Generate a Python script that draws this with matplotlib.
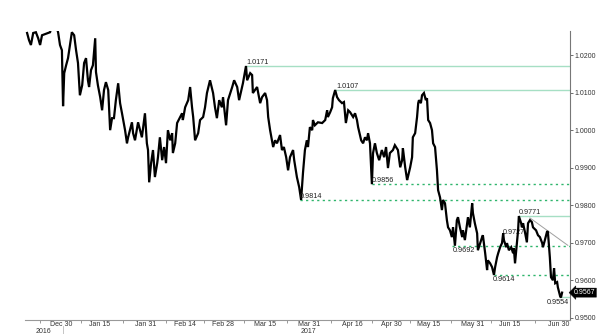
import matplotlib
matplotlib.use("Agg")
from matplotlib import pyplot as plt
from matplotlib import transforms

# x values are trading days counted from Dec 30 2016 (weekends removed)
DAYS = [
    -9.0, -8.5, -8.0, -7.4, -6.7, -6.1, -5.6, -5.1, -4.3, -3.5, -3.0, -2.5, -1.7, -1.2, -0.9,
    -0.4, 0.1, 0.4, 0.7, 1.2, 1.7, 2.2, 2.7, 3.3, 3.8, 4.3, 4.8, 5.4, 5.9, 6.4, 6.9, 7.2, 7.7,
    8.2, 8.8, 9.0, 9.5, 10.1, 10.6, 11.1, 11.6, 12.2, 12.7, 13.2, 13.7, 14.2, 14.8,
    15.3, 15.8, 16.6, 17.1, 17.4, 18.4, 18.7, 19.2, 20.0, 21.0, 21.8, 22.3, 22.6, 22.9, 23.4,
    23.9, 24.4, 25.0, 25.2, 25.7, 26.3, 26.8, 27.3, 27.8, 28.4, 28.9, 29.1, 29.7, 30.2, 31.0,
    31.5, 31.7, 32.3, 33.1, 33.6, 34.1, 34.4, 34.9, 35.7, 36.2, 37.0, 37.5, 38.0, 38.8, 39.6,
    40.1, 40.6, 41.2, 41.9, 42.2, 43.0, 43.5, 44.6, 45.1, 45.9, 46.4, 47.2, 47.4, 48.2, 48.5,
    49.3, 49.8, 50.0, 51.1, 51.9, 52.4, 53.2, 53.7, 54.0, 54.5, 55.3, 55.8, 56.3, 57.1, 57.6,
    58.1, 58.7, 59.2, 59.7, 60.5, 60.8, 61.5, 62.1, 62.6, 63.1, 63.6, 64.1, 64.4, 64.9, 65.5,
    65.7, 66.2, 67.0, 68.1, 68.9, 69.4, 69.6, 70.2, 70.7, 70.9, 71.5, 72.0, 72.5, 73.3, 73.8,
    74.3, 74.9, 75.4, 76.2, 76.7, 77.2, 77.5, 78.3, 78.8, 79.3, 79.8, 80.1, 80.6, 81.1, 81.4,
    81.9, 82.4, 83.0, 83.7, 84.3, 84.8, 85.3, 85.8, 86.6, 87.1, 87.9, 88.5, 89.0, 89.2, 89.8,
    90.3, 90.5, 91.1, 91.6, 91.8, 92.4, 92.9, 93.2, 93.4, 93.9, 94.2, 94.7, 95.2, 95.5, 95.8,
    96.3, 96.8, 97.1, 97.6, 98.1, 98.4, 98.9, 99.4, 99.7, 100.2, 100.7, 101.0, 101.5, 102.0,
    102.3, 102.8, 103.3, 103.6, 104.1, 104.7, 104.9, 105.4, 106.0, 106.2, 106.7, 107.3, 107.5,
    108.0, 108.6, 108.8, 109.4, 109.9, 110.1, 110.7, 111.2, 111.4, 112.0, 112.5, 113.0, 113.3,
    113.8, 114.1, 114.6, 115.1, 115.4, 115.6, 116.2, 116.4, 116.9, 117.5, 118.0, 118.2, 118.5,
    119.0, 119.3, 119.5, 120.1, 120.3, 120.6, 121.1, 121.6, 121.9, 122.4, 122.9, 123.2, 124.0,
    124.5, 125.0, 125.6, 125.8, 126.3, 126.9, 127.1, 127.6, 127.9, 128.4, 128.7, 129.0, 129.5,
    129.7, 130.3, 130.5, 130.8,
]
PRICE = [
    1.0259, 1.0240, 1.0227, 1.0259, 1.0261, 1.0245, 1.0227, 1.0253, 1.0256, 1.0259, 1.0261,
    1.0280, 1.0288, 1.0272, 1.0261, 1.0227, 1.0213, 1.0064, 1.0152, 1.0173, 1.0192, 1.0227,
    1.0261, 1.0253, 1.0213, 1.0179, 1.0093, 1.0120, 1.0179, 1.0192, 1.0133, 1.0115, 1.0160,
    1.0173, 1.0245, 1.0155, 1.0120, 1.0088, 1.0053, 1.0107, 1.0128, 1.0107, 1.0000, 1.0032,
    1.0032, 1.0080, 1.0125,
    1.0072, 1.0045, 1.0000, 0.9965, 0.9981, 1.0021, 0.9992, 0.9973, 1.0021, 0.9981, 1.0045,
    0.9965, 0.9947, 0.9861, 0.9912, 0.9947, 0.9875, 0.9912, 0.9928, 0.9981, 0.9920, 0.9955,
    0.9912, 1.0000, 0.9973, 0.9992, 0.9939, 0.9965, 1.0019, 1.0035, 1.0045, 1.0027, 1.0061,
    1.0080, 1.0115, 1.0061, 1.0035, 0.9973, 0.9992, 1.0027, 1.0035, 1.0061, 1.0099, 1.0133,
    1.0099, 1.0061, 1.0032, 1.0080, 1.0061, 1.0088, 1.0013, 1.0080, 1.0115, 1.0133, 1.0115,
    1.0080, 1.0115, 1.0125, 1.0171, 1.0133, 1.0152, 1.0147, 1.0099, 1.0115, 1.0072, 1.0088,
    1.0099, 1.0080, 1.0035, 1.0000, 0.9955, 0.9973, 0.9965, 0.9987, 0.9947, 0.9955, 0.9928,
    0.9893, 0.9928, 0.9947, 0.9920, 0.9875, 0.9848, 0.9814, 0.9887, 0.9947, 0.9973, 0.9955,
    1.0008, 1.0000, 1.0027, 1.0013, 1.0021, 1.0019, 1.0027, 1.0053, 1.0035, 1.0048, 1.0061,
    1.0085, 1.0107, 1.0088, 1.0080, 1.0072, 1.0075, 1.0019, 1.0053, 1.0048, 1.0035, 1.0045,
    1.0027, 1.0008, 0.9973, 0.9965, 0.9981, 0.9973, 0.9992, 0.9965, 0.9856, 0.9939, 0.9965,
    0.9939, 0.9920, 0.9947, 0.9928, 0.9955, 0.9899, 0.9939, 0.9947, 0.9960, 0.9947, 0.9901,
    0.9920, 0.9952, 0.9901, 0.9867, 0.9875, 0.9901, 0.9928, 0.9981, 0.9992, 1.0035, 1.0072,
    1.0080, 1.0072, 1.0093, 1.0099, 1.0080, 1.0085, 1.0027, 1.0019, 1.0000, 0.9965, 0.9955,
    0.9893, 0.9840, 0.9821, 0.9787, 0.9814, 0.9805, 0.9760, 0.9741, 0.9733, 0.9715, 0.9741,
    0.9692, 0.9760, 0.9768, 0.9741, 0.9715, 0.9733, 0.9707, 0.9752, 0.9768, 0.9741, 0.9805,
    0.9779, 0.9752, 0.9725, 0.9680, 0.9699, 0.9715, 0.9720, 0.9672, 0.9627, 0.9653, 0.9645,
    0.9635, 0.9614, 0.9635, 0.9661, 0.9672, 0.9688, 0.9699, 0.9725, 0.9707, 0.9688, 0.9699,
    0.9680, 0.9688, 0.9672, 0.9685, 0.9645, 0.9699, 0.9733, 0.9771, 0.9752, 0.9741, 0.9752,
    0.9728, 0.9701, 0.9752, 0.9760, 0.9755, 0.9741, 0.9733, 0.9720, 0.9715, 0.9699, 0.9688,
    0.9707, 0.9731, 0.9728, 0.9661, 0.9608, 0.9600, 0.9632, 0.9592, 0.9595, 0.9581, 0.9557,
    0.9554, 0.9567,
]

LAST_PRICE = 0.9567

# support / resistance levels: value, first trading day, solid or dotted, label side
LEVELS = [1.0171, 1.0107, 0.9856, 0.9814, 0.9771, 0.9692, 0.9614, 0.9554]
LEVEL_START = [48.2, 71.5, 81.1, 62.4, 119.5, 102.0, 113.0, 130.3]
LEVEL_DOTTED = [False, False, True, True, False, True, True, False]
LABEL_DAY = [48.2, 71.7, 81.1, 62.3, 119.5, 102.3, 112.7, 126.9]
LABEL_ABOVE = [True, True, True, True, True, False, False, False]

# extra peak label and falling trend line
PEAK_LABEL = ("0.9727", 115.4, 0.9727)
TREND_DAYS = [122.4, 132.3]
TREND_VALS = [0.9766, 0.9693]

TICK_LABELS = ["Dec 30", "Jan 15", "Jan 31", "Feb 14", "Feb 28", "Mar 15", "Mar 31",
               "Apr 16", "Apr 30", "May 15", "May 31", "Jun 15", "Jun 30"]
TICK_DAYS = [0.0, 10.0, 22.1, 32.3, 42.2, 53.2, 64.7, 75.9, 86.1, 95.8, 107.5, 117.2, 130.0]
YEAR_LABELS = [("2016", -4.8), ("2017", 64.4)]
YEAR_BREAK = 0.5

Y_TICKS = [0.95, 0.96, 0.97, 0.98, 0.99, 1.00, 1.01, 1.02]

SOLID_GREEN = "#a6dfc4"
DOT_GREEN = "#2fb56c"
FONT = "Liberation Sans"


def draw_chart(path="out.png"):
    fig = plt.figure(figsize=(6.0, 3.34), dpi=100)
    ax = fig.add_axes([0.0417, 0.0419, 0.9075, 0.8638])

    ax.set_xlim(-9.54, 132.74)
    ax.set_ylim(0.9494, 1.0263)

    # levels first so the price line sits on top
    right = ax.get_xlim()[1]
    for val, start, dotted, lx, above in zip(LEVELS, LEVEL_START, LEVEL_DOTTED,
                                              LABEL_DAY, LABEL_ABOVE):
        if dotted:
            ax.plot([start, right], [val, val], color=DOT_GREEN, lw=1.0,
                    dashes=(1.6, 2.4), zorder=2)
        else:
            ax.plot([start, right], [val, val], color=SOLID_GREEN, lw=1.0, zorder=2)
        ax.annotate(f"{val:.4f}", (lx, val), xytext=(0, 0.3 if above else -1.0),
                    textcoords="offset points", va="bottom" if above else "top",
                    ha="left", fontsize=5.2, family=FONT, color="#222222", zorder=4)

    ax.plot(TREND_DAYS, TREND_VALS, color="#a0a0a0", lw=0.7, zorder=2)

    ax.plot(DAYS, PRICE, color="black", lw=1.6, solid_joinstyle="miter", zorder=3)

    ax.text(PEAK_LABEL[1], PEAK_LABEL[2], PEAK_LABEL[0], fontsize=5.2, family=FONT,
            color="#222222", va="center", ha="left", zorder=2.5)

    # axes styling
    for side in ("left", "top"):
        ax.spines[side].set_visible(False)
    ax.spines["right"].set_color("#777777")
    ax.spines["right"].set_linewidth(0.8)
    ax.spines["bottom"].set_color("#999999")
    ax.spines["bottom"].set_linewidth(0.8)

    ax.yaxis.tick_right()
    ax.set_yticks(Y_TICKS)
    ax.set_yticklabels([f"{v:.4f}" for v in Y_TICKS], fontsize=5, family=FONT,
                       color="#333333")
    ax.tick_params(axis="y", length=2, width=0.6, pad=1.5, colors="#555555",
                   labelcolor="#333333")

    # labels centred in periods, tick marks on period boundaries
    bounds = [-5.5] + [(a + b) / 2 for a, b in zip(TICK_DAYS[:-1], TICK_DAYS[1:])]
    ax.set_xticks(bounds)
    ax.set_xticklabels([])
    ax.tick_params(axis="x", which="major", length=2, width=0.6, colors="#888888")
    ax.set_xticks(TICK_DAYS, minor=True)
    ax.set_xticklabels(TICK_LABELS, minor=True, fontsize=5, family=FONT, color="#333333")
    ax.tick_params(axis="x", which="minor", length=0, pad=0.6)

    trans = transforms.blended_transform_factory(ax.transData, ax.transAxes)
    for name, day in YEAR_LABELS:
        ax.text(day, -0.041, name, transform=trans, fontsize=5, family=FONT,
                color="#333333", ha="center", va="center")
    ax.plot([YEAR_BREAK, YEAR_BREAK], [-0.02, -0.05], transform=trans, color="#bbbbbb",
            lw=0.6, clip_on=False)

    # last price tag on the right axis
    ytrans = transforms.blended_transform_factory(ax.transAxes, ax.transData)
    ax.text(1.008, LAST_PRICE, f"{LAST_PRICE:.4f}", transform=ytrans, fontsize=5,
            family=FONT, color="white", va="center", ha="left",
            bbox=dict(boxstyle="larrow,pad=0.15", fc="black", ec="black", lw=0.3))

    fig.savefig(path, dpi=100, facecolor="white")


if __name__ == "__main__":
    draw_chart()
